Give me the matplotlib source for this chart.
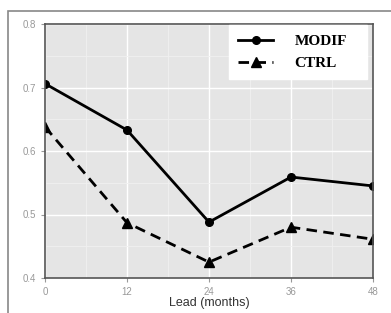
import numpy as np
import matplotlib.pyplot as plt
from matplotlib.patches import Rectangle
from matplotlib.ticker import MultipleLocator

lead = [0, 12, 24, 36, 48]
modif = [0.706, 0.633, 0.488, 0.559, 0.545]
ctrl = [0.638, 0.487, 0.425, 0.480, 0.461]

fig = plt.figure(figsize=(3.91, 3.13), dpi=100)
ax = fig.add_axes([45 / 391, 1 - 278 / 313, 328 / 391, 254 / 313])

# outer frame of the screenshot
fig.patches.append(Rectangle((8 / 391, -0.1), 1.2, 1.1 - 11 / 313,
                             transform=fig.transFigure, fill=False,
                             edgecolor='#888888', linewidth=1.2))

ax.set_facecolor('#e5e5e5')
ax.plot(lead, modif, '-', color='black', lw=2, marker='o', ms=5.5, label='MODIF')
ax.plot(lead, ctrl, '--', color='black', lw=2, marker='^', ms=6.5,
        dashes=(3.8, 2.3), label='CTRL')

ax.set_xlim(0, 48)
ax.set_ylim(0.4, 0.8)
ax.xaxis.set_major_locator(MultipleLocator(12))
ax.xaxis.set_minor_locator(MultipleLocator(6))
ax.yaxis.set_minor_locator(MultipleLocator(0.05))
ax.set_yticks([0.4, 0.5, 0.6, 0.7, 0.8])
ax.set_yticklabels(['0.4', '0.5', '0.6', '0.7', '0.8'])
ax.grid(True, which='major', color='white', lw=1.0)
ax.grid(True, which='minor', color='#f0f0f0', lw=0.6)
ax.set_axisbelow(True)
ax.tick_params(which='major', colors='#999999', labelsize=7, length=3, width=0.8)
ax.tick_params(which='minor', length=0)
for lab in ax.get_xticklabels() + ax.get_yticklabels():
    lab.set_family('Liberation Sans')
for s in ax.spines.values():
    s.set_color('#555555')
    s.set_linewidth(1.2)

ax.set_xlabel('Lead (months)', fontsize=9, color='#333333', labelpad=0,
              family='Liberation Sans')

leg = ax.legend(loc='upper left', mode='expand',
                bbox_to_anchor=(0.561, 0.791, 0.421, 0.205),
                frameon=True, fancybox=False, borderaxespad=0,
                prop={'family': 'Liberation Serif', 'weight': 'bold', 'size': 11},
                handlelength=2.3, handletextpad=1.4, borderpad=0.6,
                labelspacing=0.55)
leg.get_frame().set_facecolor('white')
leg.get_frame().set_edgecolor('white')
leg.get_frame().set_alpha(1)

fig.savefig('out.png', dpi=100)
